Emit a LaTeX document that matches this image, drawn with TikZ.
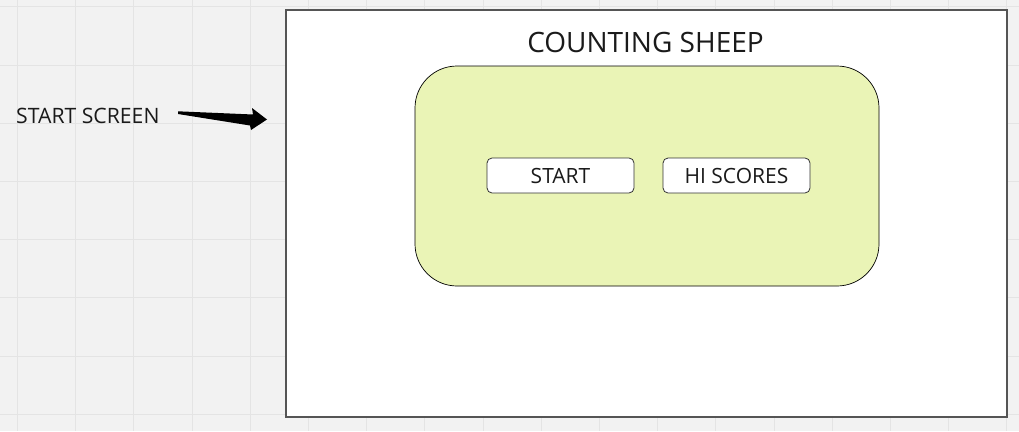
\documentclass[tikz,border=0pt]{standalone}
\usepackage{fontspec}
\setmainfont{Open Sans}
\definecolor{bg}{HTML}{F2F2F2}
\definecolor{gridc}{HTML}{E4E4E4}
\definecolor{framec}{HTML}{555555}
\definecolor{greenfill}{HTML}{EAF4B6}
\definecolor{txt}{HTML}{1A1A1A}
\begin{document}
\begin{tikzpicture}[x=1pt,y=-1pt,
  frame/.style={draw=framec,line width=1.2pt,fill=white},
  panel/.style={draw=black,line width=0.7pt,fill=greenfill,rounded corners=42pt},
  button/.style={draw=black!80,line width=0.8pt,fill=white,rounded corners=5pt,minimum width=147pt,minimum height=35pt,inner sep=0pt,font=\fontsize{21}{24}\selectfont,text=txt},
  lbl/.style={inner sep=0pt,text=txt}]
\useasboundingbox (0,0) rectangle (1019,431);
\fill[bg] (0,0) rectangle (1019,431);
\foreach \i in {0,...,17} {\draw[gridc,line width=0.8pt] (17.3+58.2*\i,0) -- (17.3+58.2*\i,431);}
\foreach \j in {0,...,7} {\draw[gridc,line width=0.8pt] (0,6.7+58.2*\j) -- (1019,6.7+58.2*\j);}
\draw[frame] (286,10) rectangle (1007,417);
\draw[panel] (415,66) rectangle (879,286);
\node[lbl,font=\fontsize{28}{32}\selectfont] (title) at (645.5,42) {COUNTING SHEEP};
\node[button] (start) at (560.5,175.5) {START};
\node[button] (hiscores) at (736.5,175.5) {HI SCORES};
\node[lbl,font=\fontsize{21.2}{25}\selectfont,anchor=west] (ss) at (16,115.5) {START SCREEN};
\coordinate (tail) at (178,112.5);
\coordinate (tip) at (267,119.5);
\fill[black] (tail) ++(0,-1.2) -- (253,114.5) -- (252,108) -- (tip) -- (251,130) -- (250,125.5) -- (178,114) -- cycle;
\end{tikzpicture}
\end{document}
